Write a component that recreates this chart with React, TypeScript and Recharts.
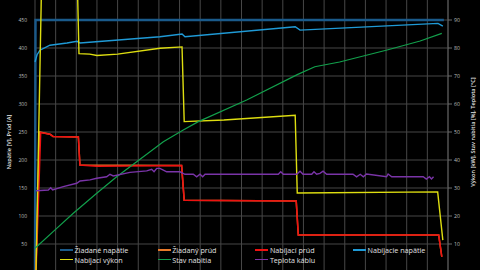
import { LineChart, Line, XAxis, YAxis, CartesianGrid, Legend, Label } from "recharts";

// time axis in minutes (labels are cut off in the picture, only the grid shows)
const timeTicks = [0, 2, 4, 6, 8, 10, 12, 14, 16, 18, 20, 22, 24, 26, 28, 30, 32, 34, 36, 38, 40];
const timeDomain = [0, 40];
const leftTicks = [50, 100, 150, 200, 250, 300, 350, 400, 450];
const rightTicks = [10, 20, 30, 40, 50, 60, 70, 80, 90];

type Pt = [number, number];

// [minute, value]
const requestedVoltage: Pt[] = [[0, 0], [0.05, 450], [39.6, 450]];

const requestedCurrent: Pt[] = [
  [0, 0], [0.08, 0], [0.45, 250], [1.45, 246], [1.75, 242], [4.2, 241], [4.35, 191],
  [14.2, 190], [14.45, 128], [25.3, 127], [25.5, 66], [39.1, 66], [39.4, 27],
];

const chargingCurrent: Pt[] = [
  [0, 0], [0.1, 0], [0.55, 249], [1.45, 246], [1.75, 242], [4.2, 241], [4.35, 191],
  [6, 189], [14.2, 190], [14.45, 128], [25.3, 127], [25.5, 66], [39.1, 66], [39.4, 27],
];

const chargingVoltage: Pt[] = [
  [0, 375], [0.2, 388], [0.48, 396], [1.45, 405], [3.1, 409], [4.07, 412], [4.36, 409],
  [12.1, 420], [14.24, 425], [14.53, 420], [25.2, 438], [25.67, 432], [39.03, 444], [39.5, 439],
];

const chargingPower: Pt[] = [
  [0, 0], [0.1, 0], [0.62, 100], [4.12, 100], [4.26, 78], [5.3, 77.8], [6, 77.3], [8, 77.8],
  [12.1, 79.9], [14.24, 80.4], [14.45, 53.7], [18.3, 54.3], [25.2, 56], [25.4, 28.2],
  [39.0, 28.6], [39.5, 11.4],
];

const stateOfCharge: Pt[] = [
  [0, 8.5], [2.1, 15.6], [3.71, 21], [5.98, 28.1], [7.91, 34], [9.85, 39.4], [12.43, 46.5],
  [14.36, 50.7], [15.82, 53.7], [20.5, 61.4], [25.4, 70.5], [27.1, 73.3], [29.5, 75],
  [34.1, 79.3], [37.3, 82.5], [39.4, 85.2],
];

const cableTemp: Pt[] = [
  [0.1, 29], [1.29, 29.3], [1.52, 30.1], [1.71, 29.3], [2.74, 30.5], [4.04, 31.7], [4.36, 32.5],
  [5.33, 32.9], [5.98, 33.5], [6.94, 34], [7.26, 34.9], [7.58, 34.3], [9.2, 35.6], [10.82, 36.1],
  [11.3, 36.7], [11.53, 35.8], [11.79, 37], [12.1, 37], [12.43, 36.4], [12.75, 35.8],
  [14.04, 35.8], [14.53, 34.9], [15.33, 34.9], [15.66, 34], [15.98, 34.9], [16.24, 34],
  [16.47, 34.9], [23.56, 34.9], [23.8, 35.8], [24.05, 34.9], [25.35, 34.9], [25.67, 36],
  [25.96, 34.9], [26.8, 34.9], [27.02, 35.8], [27.28, 34.9], [27.6, 35.2], [27.9, 36],
  [28.25, 34.9], [30.8, 34.9], [31.15, 34], [31.5, 34.9], [31.8, 34], [32.1, 35], [34.05, 34],
  [34.2, 35], [34.55, 34], [37.6, 34], [37.9, 33.2], [38.2, 34], [38.4, 33.2], [38.6, 34],
];

const SERIES = [
  { name: "Žiadané napätie", color: "#1a5a8a", axis: "left", width: 2.4, points: requestedVoltage },
  { name: "Žiadaný prúd", color: "#e8792a", axis: "left", width: 1.5, points: requestedCurrent },
  { name: "Nabíjací prúd", color: "#ee1111", axis: "left", width: 1.5, points: chargingCurrent },
  { name: "Nabíjacie napätie", color: "#1f9ad6", axis: "left", width: 1.4, points: chargingVoltage },
  { name: "Nabíjací výkon", color: "#dede10", axis: "right", width: 1.4, points: chargingPower },
  { name: "Stav nabitia", color: "#12a04c", axis: "right", width: 1.2, points: stateOfCharge },
  { name: "Teplota káblu", color: "#7a34a8", axis: "right", width: 1.4, points: cableTemp },
];

const FONT = "'Open Sans', 'DejaVu Sans', sans-serif";

// vertical grid every 2 minutes (the hidden time axis would thin its ticks out)
function timeGrid(props: any) {
  const scale = props?.xAxis?.scale;
  if (typeof scale === "function") return timeTicks.map((t) => scale(t));
  const { left, width } = props.offset;
  const [t0, t1] = timeDomain;
  return timeTicks.map((t) => left + ((t - t0) / (t1 - t0)) * width);
}

function VerticalTitle({ viewBox, text, dx, dy }: any) {
  const cx = viewBox.x + dx;
  const cy = viewBox.y + viewBox.height / 2 + dy;
  return (
    <text
      transform={`translate(${cx},${cy}) rotate(-90)`}
      textAnchor="middle"
      dominantBaseline="central"
      fill="#e6e6e6"
      fontSize={5.6}
      fontWeight={600}
      fontFamily={FONT}
    >
      {text}
    </text>
  );
}

// legend keeps the series order (recharts would sort it by name)
function LegendGrid() {
  return (
    <div
      style={{
        display: "grid",
        gridTemplateColumns: "repeat(4, 97.7px)",
        gridAutoRows: "9.5px",
        fontFamily: FONT,
        fontSize: 7.2,
        color: "#e0e0e0",
      }}
    >
      {SERIES.map((s) => (
        <div key={s.name} style={{ display: "flex", alignItems: "center", whiteSpace: "nowrap" }}>
          <span style={{ width: 13, height: 1.5, background: s.color, marginRight: 1.5 }} />
          {s.name}
        </div>
      ))}
    </div>
  );
}

export default function App() {
  return (
    <div
      style={{
        position: "absolute",
        left: 0,
        top: 0,
        width: 480,
        height: 270,
        overflow: "hidden",
        background: "#000",
      }}
    >
      {/* plot runs from y=-8 to y=272, so the top and the time axis fall outside the frame */}
      <div style={{ position: "absolute", left: 0, top: -8 }}>
        <LineChart width={480} height={280} margin={{ top: 0, right: 0, bottom: 0, left: 0 }}>
          <CartesianGrid
            yAxisId="left"
            stroke="#474747"
            strokeWidth={1}
            verticalCoordinatesGenerator={timeGrid}
          />
          <XAxis type="number" dataKey="t" domain={timeDomain} ticks={timeTicks} interval={0} hide />
          <YAxis
            yAxisId="left"
            orientation="left"
            width={35}
            domain={[0, 500]}
            ticks={leftTicks}
            axisLine={false}
            tickLine={false}
            tickSize={6}
            tickMargin={2}
            tick={{ fill: "#bdbdbd", fontSize: 5, fontFamily: FONT }}
          >
            <Label content={(p: any) => <VerticalTitle {...p} text="Napätie [V], Prúd [A]" dx={8.5} dy={10} />} />
          </YAxis>
          <YAxis
            yAxisId="right"
            orientation="right"
            width={32}
            domain={[0, 100]}
            ticks={rightTicks}
            axisLine={{ stroke: "#5a5a5a" }}
            tickLine={{ stroke: "#6a6a6a" }}
            tickSize={4}
            tickMargin={2}
            tick={{ fill: "#bdbdbd", fontSize: 5.2, fontFamily: FONT }}
          >
            <Label
              content={(p: any) => (
                <VerticalTitle {...p} text="Výkon [kW], Stav nabitia [%], Teplota [°C]" dx={25} dy={0} />
              )}
            />
          </YAxis>
          <Legend
            layout="vertical"
            align="center"
            verticalAlign="middle"
            content={LegendGrid}
            wrapperStyle={{ left: 60, top: 253.3, width: 400 }}
          />
          {SERIES.map((s) => (
            <Line
              key={s.name}
              name={s.name}
              yAxisId={s.axis}
              data={s.points.map(([t, v]) => ({ t, v }))}
              dataKey="v"
              type="linear"
              stroke={s.color}
              strokeWidth={s.width}
              dot={false}
              activeDot={false}
              isAnimationActive={false}
            />
          ))}
        </LineChart>
      </div>
    </div>
  );
}
